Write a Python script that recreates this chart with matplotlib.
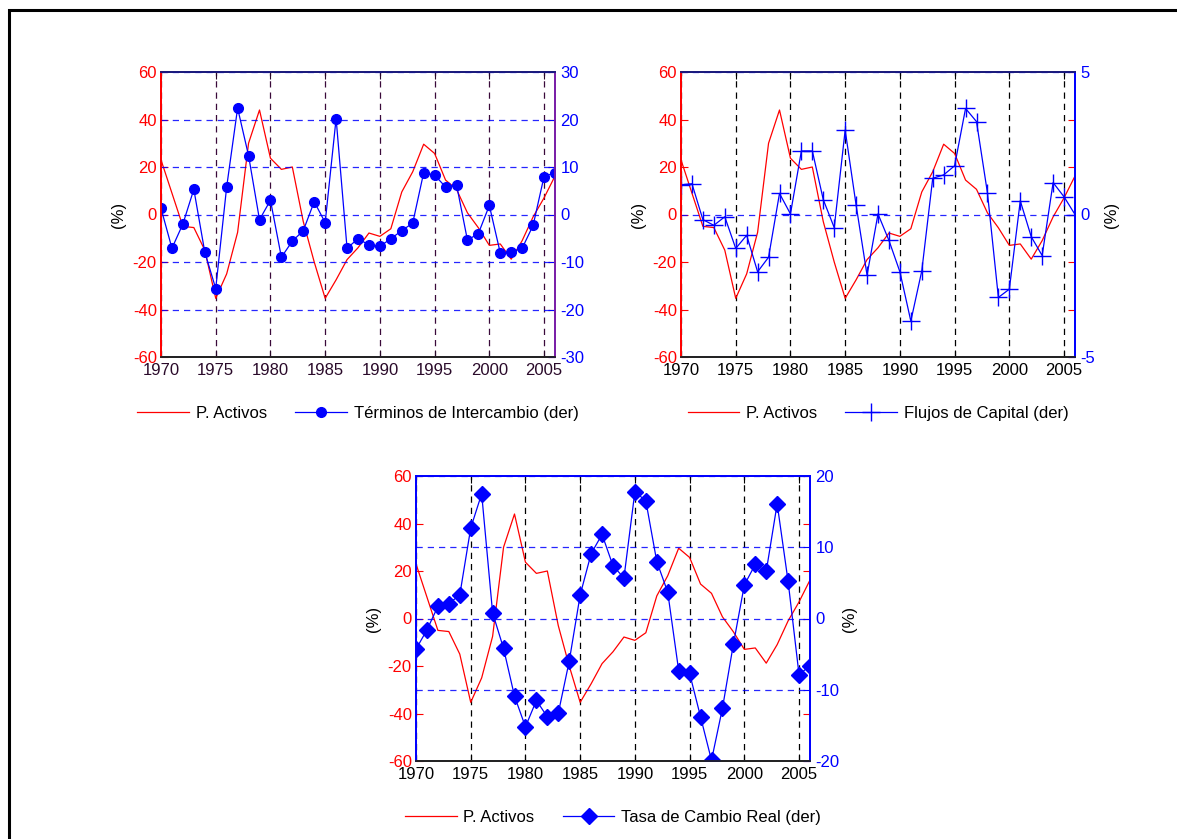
import numpy as np
import matplotlib
matplotlib.use('Agg')
import matplotlib.pyplot as plt
from matplotlib.patches import Rectangle

plt.rcParams['font.family'] = ['Liberation Sans', 'DejaVu Sans']
plt.rcParams['font.size'] = 12
plt.rcParams['axes.unicode_minus'] = False

anios = list(range(1970, 2007))

# P. Activos (eje izquierdo, %)
p_activos = [23, 9, -5, -5.5, -15, -35.3, -25, -7.5, 30, 44, 23.7, 19, 20, -3, -20,
             -35.3, -27.5, -19, -14, -7.8, -9.2, -6, 9.5, 18, 29.6, 25.7, 14.5, 10.6,
             0.7, -5.6, -13, -12.4, -18.8, -11, -1, 7, 16.2]

# Terminos de intercambio (eje derecho)
terminos = [1.3, -7.1, -2.0, 5.3, -7.9, -15.6, 5.8, 22.4, 12.4, -1.1, 3.0, -9.0, -5.6,
            -3.4, 2.7, -1.7, 20.2, -7.1, -5.1, -6.4, -6.7, -5.1, -3.4, -1.8, 8.8, 8.3,
            5.8, 6.3, -5.4, -4.0, 1.9, -8.1, -7.9, -7.1, -2.3, 8.0, 8.8]

# Flujos de capital (eje derecho)
flujos = [1.04, 1.08, -0.18, -0.38, -0.08, -1.19, -0.73, -2.01, -1.5, 0.74, 0.02, 2.23,
          2.23, 0.52, -0.46, 2.96, 0.33, -2.13, 0.02, -0.91, -2.01, -3.74, -1.98, 1.27,
          1.39, 1.71, 3.72, 3.26, 0.76, -2.91, -2.62, 0.48, -0.78, -1.44, 1.12, 0.62, 0.0]

# Tasa de cambio real (eje derecho)
tcr = [-4.3, -1.6, 1.7, 2.1, 3.3, 12.7, 17.5, 0.8, -4.2, -10.9, -15.2, -11.5, -13.8,
       -13.3, -6.0, 3.3, 9.1, 11.8, 7.4, 5.7, 17.8, 16.5, 8.0, 3.7, -7.3, -7.7, -13.8,
       -19.9, -12.6, -3.6, 4.7, 7.6, 6.6, 16.1, 5.2, -7.9, -6.6]

W, H = 1177, 839
fig = plt.figure(figsize=(W / 100, H / 100), dpi=100)

# marco exterior
fig.add_artist(Rectangle((9 / W, -0.1), 1.2, 1 - 10 / H + 0.1, transform=fig.transFigure,
                         fill=False, edgecolor='black', linewidth=2.2))

rojo = '#ff0000'
azul = '#0000ff'
dash = (0, (5, 4))


def panel(px, py, serie, rlim, rticks, marker, ms, label, xcol, vcol, lspine, rspine,
          tspine, rlabel, rpad):
    ax = fig.add_axes([px / W, 1 - py / H, 394 / W, 285 / H])
    ax2 = ax.twinx()
    ax.set_zorder(1)
    ax2.set_zorder(2)
    ax.patch.set_visible(False)
    ax2.patch.set_visible(False)

    l1, = ax.plot(anios, p_activos, color=rojo, linewidth=0.9)
    ax.set_xlim(1970, 2006)
    ax.set_ylim(-60, 60)
    ax.set_yticks(range(-60, 61, 20))
    ax.set_xticks(range(1970, 2006, 5))
    ax.tick_params(axis='y', direction='in', colors=rojo, length=5, pad=3, right=True,
                   labelsize=12)
    ax.tick_params(axis='x', direction='in', colors=xcol, length=5, pad=4, top=True,
                   labelsize=12)
    ax.grid(axis='x', color=vcol, linestyle=dash, linewidth=0.9)
    ax.set_ylabel('(%)', fontsize=12, labelpad=5)

    if marker == '+':
        l2, = ax2.plot(anios, serie, color=azul, linewidth=0.9, marker='+', ms=ms,
                       mew=1.0)
    else:
        l2, = ax2.plot(anios, serie, color=azul, linewidth=0.9, marker=marker, ms=ms,
                       mfc=azul, mec=azul)
    ax2.set_ylim(*rlim)
    ax2.set_yticks(rticks)
    ax2.tick_params(axis='y', direction='in', colors=azul, length=5, pad=4,
                    labelsize=12)
    ax2.grid(axis='y', color=azul, linestyle=dash, linewidth=0.9, alpha=0.85)
    ax2.set_xlim(1970, 2006)
    if rlabel:
        ax2.set_ylabel('(%)', fontsize=12, labelpad=rpad, rotation=90)

    for a in (ax, ax2):
        a.spines['left'].set_color(lspine)
        a.spines['right'].set_color(rspine)
        a.spines['top'].set_color(tspine)
        a.spines['bottom'].set_color('#222222')
        for s in a.spines.values():
            s.set_linewidth(1.3)

    ax.legend([l1, l2], ['P. Activos', label], loc='upper center',
              bbox_to_anchor=(0.5, -0.12), ncol=2, frameon=False,
              handlelength=3.1, handletextpad=0.4, columnspacing=1.7, fontsize=12)
    return ax, ax2


panel(161, 357, terminos, (-30, 30), range(-30, 31, 10), 'o', 7,
      'Términos de Intercambio (der)', '#2a0a2a', '#3a0a3a', rojo, '#7a1fa8',
      '#1a1a7a', False, 0)
panel(681, 357, flujos, (-5, 5), [-5, 0, 5], '+', 13,
      'Flujos de Capital (der)', 'black', 'black', rojo, azul, '#1a1a7a', True, 6)
panel(416, 761, tcr, (-20, 20), range(-20, 21, 10), 'D', 8,
      'Tasa de Cambio Real (der)', 'black', 'black', azul, azul, azul, True, 2)

fig.savefig('out.png', dpi=100)
